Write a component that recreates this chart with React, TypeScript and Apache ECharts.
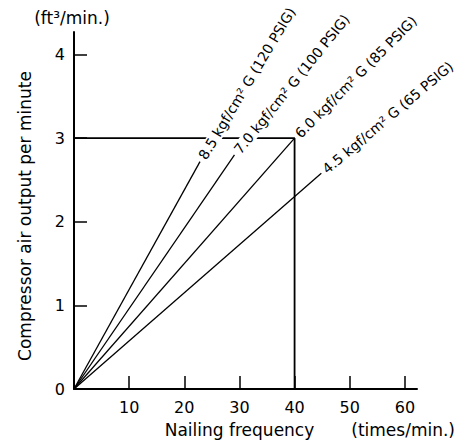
import React, { useEffect, useRef } from "react";
import * as echarts from "echarts";

// ---- data ----
const xTickValues = [10, 20, 30, 40, 50, 60];
const yTickValues = [0, 1, 2, 3, 4];
const pressureLabels = [
  "8.5 kgf/cm² G (120 PSIG)",
  "7.0 kgf/cm² G (100 PSIG)",
  "6.0 kgf/cm² G (85 PSIG)",
  "4.5 kgf/cm² G (65 PSIG)",
];
// each line runs from the origin to its end point (nailing frequency, air output)
const lineStartX = [0, 0, 0, 0];
const lineStartY = [0, 0, 0, 0];
const lineEndX = [22.85, 29.1, 40, 44.85];
const lineEndY = [2.72, 2.8, 3.0, 2.58];
// reference guide: 40 times/min -> 3 ft3/min
const guideX = [0, 40, 40];
const guideY = [3, 3, 0];

const xMax = 62.2;
const yMax = 4.27;

// presentation
const labelAngles = [59, 51, 45, 40];
const FONT = "DejaVu Sans";

export default function App() {
  const ref = useRef<HTMLDivElement>(null);

  useEffect(() => {
    if (!ref.current) return;
    const chart = echarts.init(ref.current, null, { renderer: "svg" });

    const lineSeries = pressureLabels.map((name, i) => ({
      name,
      type: "line",
      data: [
        [lineStartX[i], lineStartY[i]],
        [lineEndX[i], lineEndY[i]],
      ],
      symbol: "none",
      lineStyle: { color: "#000", width: 1.3 },
      z: 3,
    }));

    const option: any = {
      animation: false,
      backgroundColor: "#fff",
      grid: { left: 74, right: 42, top: 32, bottom: 57 },
      xAxis: {
        type: "value",
        min: 0,
        max: xMax,
        interval: 10,
        name: "Nailing frequency",
        nameLocation: "middle",
        nameGap: 32,
        nameTextStyle: {
          fontFamily: FONT,
          fontSize: 17,
          color: "#000",
          padding: [0, 12, 0, 0],
        },
        axisLine: { show: true, lineStyle: { color: "#000", width: 2 } },
        axisTick: {
          show: true,
          inside: true,
          length: 13,
          lineStyle: { color: "#000", width: 1.5 },
          customValues: xTickValues,
        },
        axisLabel: {
          fontFamily: FONT,
          fontSize: 16,
          color: "#000",
          margin: 10,
          customValues: xTickValues,
          formatter: (v: number) => (xTickValues.includes(v) ? String(v) : ""),
        },
        splitLine: { show: false },
      },
      yAxis: {
        type: "value",
        min: 0,
        max: yMax,
        interval: 1,
        name: "Compressor air output per minute",
        nameLocation: "middle",
        nameGap: 41,
        nameTextStyle: {
          fontFamily: FONT,
          fontSize: 17,
          color: "#000",
          padding: [0, 11, 0, 0],
        },
        axisLine: { show: true, lineStyle: { color: "#000", width: 2 } },
        axisTick: {
          show: true,
          inside: true,
          length: 13,
          lineStyle: { color: "#000", width: 1.5 },
          customValues: yTickValues.filter((v) => v > 0),
        },
        axisLabel: {
          fontFamily: FONT,
          fontSize: 16,
          color: "#000",
          margin: 9,
          customValues: yTickValues,
          formatter: (v: number) => (yTickValues.includes(v) ? String(v) : ""),
        },
        splitLine: { show: false },
      },
      series: [
        {
          name: "guide",
          type: "line",
          data: guideX.map((x, i) => [x, guideY[i]]),
          symbol: "none",
          lineStyle: { color: "#000", width: 1.8 },
          z: 2,
        },
        ...lineSeries,
      ],
    };

    chart.setOption(option);

    const labelGraphics = pressureLabels.map((text, i) => {
      const p = chart.convertToPixel({ gridIndex: 0 }, [lineEndX[i], lineEndY[i]]) as number[];
      const a = (labelAngles[i] * Math.PI) / 180;
      const gap = 3;
      return {
        type: "text",
        x: p[0] + gap * Math.cos(a),
        y: p[1] - gap * Math.sin(a),
        rotation: a,
        z: 100,
        style: {
          text,
          fontFamily: FONT,
          fontSize: 14,
          fill: "#000",
          align: "left",
          verticalAlign: "middle",
          textAlign: "left",
          textVerticalAlign: "middle",
          backgroundColor: "#fff",
          padding: [0, 1, 0, 1],
        },
      };
    });

    chart.setOption({
      graphic: [
        ...labelGraphics,
        {
          type: "text",
          x: 72,
          y: 18,
          z: 100,
          style: {
            text: "(ft³/min.)",
            fontFamily: FONT,
            fontSize: 17,
            fill: "#000",
            align: "center",
            verticalAlign: "middle",
            textAlign: "center",
            textVerticalAlign: "middle",
          },
        },
        {
          type: "text",
          x: 455,
          y: 430,
          z: 100,
          style: {
            text: "(times/min.)",
            fontFamily: FONT,
            fontSize: 17,
            fill: "#000",
            align: "right",
            verticalAlign: "middle",
            textAlign: "right",
            textVerticalAlign: "middle",
          },
        },
      ],
    });

    return () => chart.dispose();
  }, []);

  return (
    <div
      ref={ref}
      style={{ position: "fixed", left: 0, top: 0, width: 459, height: 446, background: "#fff" }}
    />
  );
}
